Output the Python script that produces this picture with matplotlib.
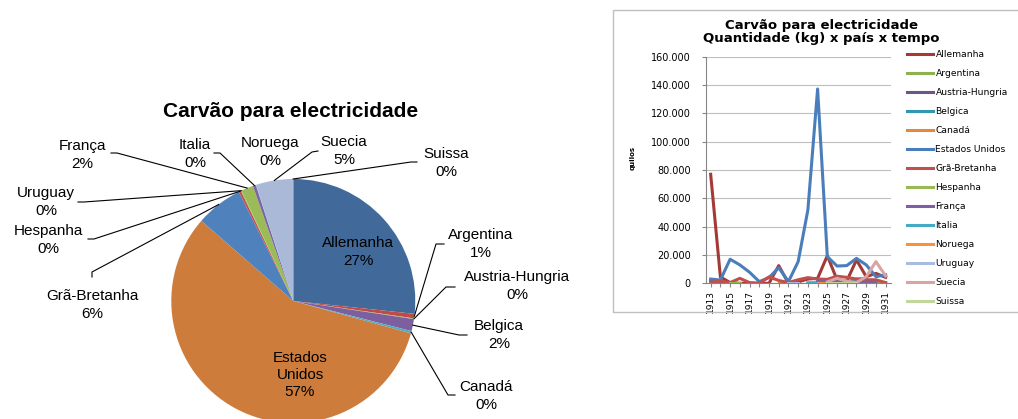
import numpy as np
import matplotlib
matplotlib.use('Agg')
import matplotlib.pyplot as plt
from matplotlib.patches import Rectangle
from matplotlib.ticker import FuncFormatter

# dados do grafico de linhas (1913-1931), em quilos
years = list(range(1913, 1932))
nan = np.nan

allemanha = [77000, 4500, 500, 0, 0, 0, 0, 12500, 0, 1000, 3000, 3500, 19500, 2400, 1600, 16500, 4700, 7000, 4200]
argentina = [nan] * 10 + [300, 500, 800, 600, 400, 300, 500, 400, 300]
austria_hungria = [2000, 800, 0] + [nan] * 16
belgica = [nan] * 13 + [1500, 800, 3000, 3500, nan, nan]
canada = [nan] * 7 + [0, 0] + [nan] * 10
estados_unidos = [3000, 2300, 17000, 13000, 7800, 1200, 4000, 11000, 1200, 15300, 51800, 137200, 18800, 12200, 12500, 17600, 13000, 4700, 5900]
gra_bretanha = [800, 1500, 500, 3500, 500, 0, 4500, 2000, 500, 2500, 4000, 3000, 2800, 5000, 4200, 3000, 2500, 2500, 500]
hespanha = [nan, nan, 0, 0] + [nan] * 15
franca = [nan] * 11 + [1600, 2000, 1500, 1000, 900, 800, 800, nan]
italia = [nan] * 10 + [200, 0] + [nan] * 7
noruega = [nan] * 11 + [0, 0] + [nan] * 6
uruguay = [nan] * 8 + [0, 0] + [nan] * 9
suecia = [nan] * 12 + [1000, 3500, 1500, 500, 4700, 15300, 5200]
suissa = [nan] * 12 + [0, 0, 0, 0] + [nan] * 3

line_names = ['Allemanha', 'Argentina', 'Austria-Hungria', 'Belgica', 'Canadá',
              'Estados Unidos', 'Grã-Bretanha', 'Hespanha', 'França', 'Italia',
              'Noruega', 'Uruguay', 'Suecia', 'Suissa']
line_values = [allemanha, argentina, austria_hungria, belgica, canada,
               estados_unidos, gra_bretanha, hespanha, franca, italia,
               noruega, uruguay, suecia, suissa]
line_colors = ['#A33A37', '#8DB050', '#6E548D', '#3296AE', '#E3893F',
               '#4A7EBB', '#C0504D', '#98B954', '#7D60A0', '#46AAC5',
               '#F69240', '#A8BCDF', '#D9A5A4', '#C3D69B']

# dados da pizza (percentagens do total)
pie_names = ['Allemanha', 'Argentina', 'Austria-Hungria', 'Belgica', 'Canadá',
             'Estados\nUnidos', 'Grã-Bretanha', 'Hespanha', 'Uruguay', 'França',
             'Italia', 'Noruega', 'Suecia', 'Suissa']
pie_values = [26.8, 0.6, 0.1, 1.6, 0.3, 57.4, 6.25, 0.3, 0.1, 1.6, 0.4, 0.05, 4.9, 0.05]
pie_colors = ['#41699A', '#BE4B48', '#9BBB59', '#7D5FA0', '#4BACC6', '#CD7C3B',
              '#4F81BD', '#C0504D', '#9BBB59', '#9BBB59', '#8064A2', '#4BACC6',
              '#AAB9D8', '#D99694']

W, H = 1018, 419
fig = plt.figure(figsize=(W / 100, H / 100), dpi=100)

# ---------- pizza ----------
CX, CY, R = 293.3, 301.0, 122.0


def to_data(x, y):
    return (x - CX) / R, (CY - y) / R


ax1 = fig.add_axes([0, 0, 610 / W, 1])
wedges, _ = ax1.pie(pie_values, colors=pie_colors, startangle=90, counterclock=False,
                    wedgeprops=dict(linewidth=0))
ax1.set_aspect('auto')
ax1.set_xlim(-CX / R, (610 - CX) / R)
ax1.set_ylim((CY - H) / R, CY / R)
ax1.axis('off')

total = sum(pie_values)
pcts = [f"{round(v / total * 100)}%" for v in pie_values]

# posicao dos rotulos (px) e linhas guia
label_pos = {
    'Allemanha': (358, 252), 'Argentina': (481, 244), 'Austria-Hungria': (517, 286),
    'Belgica': (499, 335), 'Canadá': (486, 396), 'Estados\nUnidos': (300, 375),
    'Grã-Bretanha': (92, 305), 'Hespanha': (48, 240), 'Uruguay': (46, 202),
    'França': (82, 155), 'Italia': (195, 154), 'Noruega': (270, 152),
    'Suecia': (344, 151), 'Suissa': (446, 163),
}
leaders = {
    'Argentina': [(444, 244), (436, 244)], 'Austria-Hungria': [(455, 287), (446, 287)],
    'Belgica': [(467, 335), (459, 335)], 'Canadá': [(455, 395), (448, 395)],
    'Grã-Bretanha': [(92, 277), (92, 272)], 'Hespanha': [(88, 239), (94, 239)],
    'Uruguay': [(78, 202), (84, 202)], 'França': [(111, 153), (117, 153)],
    'Italia': [(214, 153), (220, 153)], 'Suecia': [(318, 151), (312, 152)],
    'Suissa': [(417, 162), (411, 162)],
}

for w, name, pct in zip(wedges, pie_names, pcts):
    x, y = to_data(*label_pos[name])
    ax1.text(x, y, f"{name}\n{pct}", ha='center', va='center', fontsize=11,
             family='Liberation Sans', linespacing=1.3, color='black')
    if name in leaders:
        mid = np.deg2rad((w.theta1 + w.theta2) / 2)
        pts = [to_data(*p) for p in leaders[name]] + [(np.cos(mid), np.sin(mid))]
        ax1.plot([p[0] for p in pts], [p[1] for p in pts], color='black', lw=0.8)

fig.text(291 / W, 1 - 111 / H, 'Carvão para electricidade', ha='center', va='center',
         fontsize=15, fontweight='bold', family='Liberation Sans')

# ---------- grafico de linhas ----------
fig.add_artist(Rectangle((613 / W, 1 - 312 / H), (1030 - 613) / W, (312 - 10) / H,
                         transform=fig.transFigure, fill=False, edgecolor='#BFBFBF', lw=1))

ax2 = fig.add_axes([706 / W, 1 - 283.3 / H, 185 / W, 226.6 / H])
for name, vals, color in zip(line_names, line_values, line_colors):
    ax2.plot(years, vals, color=color, lw=2.2, label=name)

ax2.set_xlim(1912.52, 1931.55)
ax2.set_ylim(0, 160000)
ax2.set_yticks(range(0, 160001, 20000))
ax2.yaxis.set_major_formatter(FuncFormatter(lambda v, p: f"{int(v):,}".replace(',', '.')))
ax2.set_xticks(years)
ax2.set_xticklabels([str(y) if y % 2 == 1 else '' for y in years], rotation=90)
ax2.tick_params(axis='y', labelsize=7, length=3, color='#868686', pad=8)
ax2.tick_params(axis='x', labelsize=6.5, length=3, color='#868686', pad=2)
ax2.grid(axis='y', color='#BFBFBF', lw=0.8)
ax2.set_axisbelow(True)
for s in ['top', 'right']:
    ax2.spines[s].set_visible(False)
for s in ['left', 'bottom']:
    ax2.spines[s].set_color('#868686')

fig.text(633 / W, 1 - 158 / H, 'quilos', rotation=90, ha='center', va='center',
         fontsize=5, fontweight='bold')
fig.text(821.7 / W, 1 - 32 / H, 'Carvão para electricidade\nQuantidade (kg) x país x tempo',
         ha='center', va='center', fontsize=9.5, fontweight='bold', linespacing=1.05)

ax2.legend(loc='upper left', bbox_to_anchor=(906.7 / W, 1 - 50 / H), bbox_transform=fig.transFigure,
           frameon=False, borderpad=0, borderaxespad=0, handlelength=2.84, handletextpad=0.3,
           labelspacing=1.09, fontsize=6.6)

fig.savefig('out.png', dpi=100)
